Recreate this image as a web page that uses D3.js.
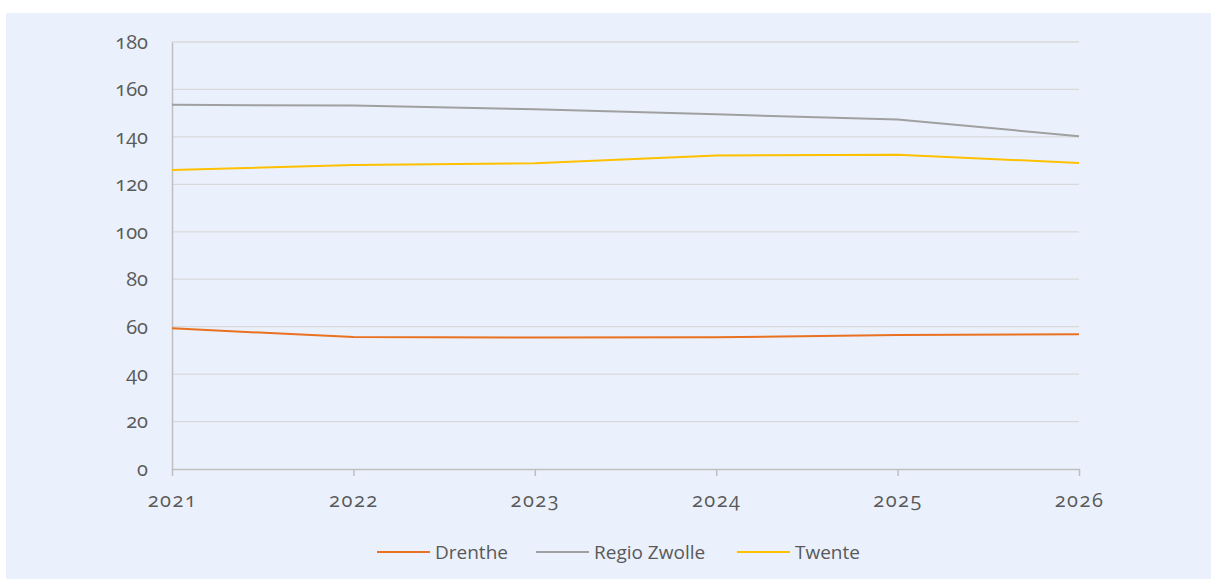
<!DOCTYPE html>
<html>
<head>
<meta charset="utf-8">
<script src="https://cdn.jsdelivr.net/npm/d3@7"></script>
<style>
  body { margin: 0; background: #ffffff; }
  .tick text { font-family: "Open Sans", sans-serif; font-size: 20px; fill: #595959; font-variant-numeric: oldstyle-nums; }
  .xaxis .tick text { letter-spacing: 1.5px; }
  .legend text { font-family: "Open Sans", sans-serif; font-size: 19px; fill: #595959; }
</style>
</head>
<body>
<script>
let width = 1211
let height = 579

// data
let years = [2021, 2022, 2023, 2024, 2025, 2026]
let drenthe = [59.3, 55.6, 55.4, 55.5, 56.5, 56.8]
let regioZwolle = [153.5, 153.2, 151.6, 149.5, 147.3, 140.3]
let twente = [126.0, 128.1, 128.9, 132.2, 132.5, 129.0]
let seriesNames = ["Drenthe", "Regio Zwolle", "Twente"]
let seriesColors = ["#E97120", "#A0A0A0", "#FFC000"]
let yTicks = [0, 20, 40, 60, 80, 100, 120, 140, 160, 180]

let allSeries = [drenthe, regioZwolle, twente]

let plotLeft = 172, plotRight = 1079, plotTop = 42, plotBottom = 469

let x = d3.scalePoint().domain(years).range([plotLeft, plotRight])
let y = d3.scaleLinear().domain([0, 180]).range([plotBottom, plotTop])

let svg = d3.select("body").append("svg")
    .attr("width", width)
    .attr("height", height)

// panel background
svg.append("rect")
    .attr("x", 6).attr("y", 13)
    .attr("width", width - 6).attr("height", height - 13)
    .attr("fill", "#EAF1FC")

// gridlines
svg.append("g")
    .selectAll("line")
    .data(yTicks.filter(d => d > 0))
    .enter()
    .append("line")
    .attr("x1", plotLeft).attr("x2", plotRight)
    .attr("y1", d => y(d)).attr("y2", d => y(d))
    .attr("stroke", "#D9D9D9")
    .attr("stroke-width", 1.3)

// y axis
let yAxis = svg.append("g")
    .attr("transform", `translate(${plotLeft},0)`)
    .call(d3.axisLeft(y).tickValues(yTicks).tickSize(0).tickPadding(24))
yAxis.select(".domain").attr("stroke", "#BFBFBF").attr("stroke-width", 1.5)

// x axis
let xAxis = svg.append("g")
    .attr("class", "xaxis")
    .attr("transform", `translate(0,${plotBottom})`)
    .call(d3.axisBottom(x).tickSize(7).tickPadding(17).tickSizeOuter(0))
xAxis.select(".domain").attr("stroke", "#BFBFBF").attr("stroke-width", 1.5)
xAxis.selectAll(".tick line").attr("stroke", "#BFBFBF").attr("stroke-width", 1.5)

// lines
let line = d3.line()
    .x((d, i) => x(years[i]))
    .y(d => y(d))

svg.append("g")
    .selectAll("path")
    .data(allSeries)
    .enter()
    .append("path")
    .attr("d", d => line(d))
    .attr("fill", "none")
    .attr("stroke", (d, i) => seriesColors[i])
    .attr("stroke-width", 2)

// legend
let legendX = [377, 536, 737]
let legendY = 552
let legend = svg.append("g").attr("class", "legend")
    .selectAll("g")
    .data(seriesNames)
    .enter()
    .append("g")
    .attr("transform", (d, i) => `translate(${legendX[i]},${legendY})`)

legend.append("line")
    .attr("x1", 0).attr("x2", 53)
    .attr("stroke", (d, i) => seriesColors[i])
    .attr("stroke-width", 2)
legend.append("text")
    .attr("x", 58)
    .attr("dy", "0.35em")
    .text(d => d)
</script>
</body>
</html>
